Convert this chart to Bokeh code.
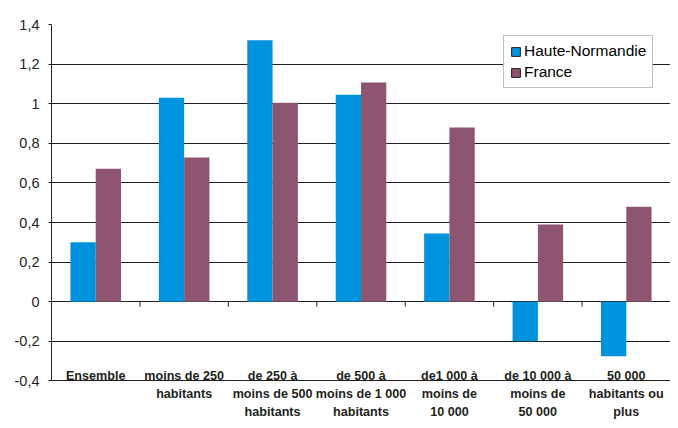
from bokeh.plotting import figure
from bokeh.models import ColumnDataSource, FixedTicker, CustomJSTickFormatter, Legend, LegendItem
from bokeh.core.properties import value
from bokeh.embed import file_html
from bokeh.resources import INLINE

categories = [
    "Ensemble",
    "moins de 250\nhabitants",
    "de 250 à\nmoins de 500\nhabitants",
    "de 500 à\nmoins de 1 000\nhabitants",
    "de1 000 à\nmoins de\n10 000\nhabitants",
    "de 10 000 à\nmoins de\n50 000\nhabitants",
    "50 000\nhabitants ou\nplus",
]
haute_normandie = [0.30, 1.03, 1.32, 1.045, 0.345, -0.20, -0.275]
france = [0.672, 0.728, 1.005, 1.107, 0.88, 0.39, 0.48]
y_ticks = [-0.4, -0.2, 0, 0.2, 0.4, 0.6, 0.8, 1, 1.2, 1.4]
series_names = ["Haute-Normandie", "France"]

BLUE = "#0093DD"
PURPLE = "#8E5571"
DARK = "#231F20"
FONT = "Liberation Sans"

W, H = 670, 420
TOP, LEFT, RIGHT = 24, 51, 0
PX_PER_UNIT = 198.0
frame_h = H - TOP
Y_MAX = 1.4
Y_MIN = Y_MAX - frame_h / PX_PER_UNIT
n = len(categories)
bar_w = 0.286

p = figure(width=W, height=H, x_range=(0, n), y_range=(Y_MIN, Y_MAX),
           output_backend="svg", toolbar_location=None,
           x_axis_location=None, y_axis_location="left",
           min_border_left=LEFT, min_border_right=RIGHT,
           min_border_top=TOP, min_border_bottom=0)
p.outline_line_color = None
p.background_fill_color = "white"
p.border_fill_color = "white"

# grid
p.xgrid.visible = False
p.ygrid.ticker = FixedTicker(ticks=y_ticks)
p.ygrid.grid_line_color = DARK
p.ygrid.grid_line_width = 1

# y axis
ax = p.yaxis[0]
ax.ticker = FixedTicker(ticks=y_ticks)
ax.formatter = CustomJSTickFormatter(code="var s = (Math.round(tick*10)/10).toString(); return s.replace('.', ',');")
ax.bounds = (min(y_ticks), max(y_ticks))
ax.axis_line_color = DARK
ax.axis_line_width = 1
ax.major_tick_line_color = DARK
ax.major_tick_in = 0
ax.major_tick_out = 3
ax.minor_tick_line_color = None
ax.major_label_text_font = FONT
ax.major_label_text_font_size = "14.5px"
ax.major_label_text_color = DARK
ax.major_label_standoff = 9

centers = [i + 0.5 for i in range(n)]
src = ColumnDataSource(dict(
    x_hn=[c - bar_w / 2 for c in centers],
    x_fr=[c + bar_w / 2 for c in centers],
    hn=haute_normandie, fr=france))
p.vbar(x="x_hn", top="hn", bottom=0, width=bar_w, source=src,
       fill_color=BLUE, line_color=None)
p.vbar(x="x_fr", top="fr", bottom=0, width=bar_w, source=src,
       fill_color=PURPLE, line_color=None)

# category tick marks below zero line
tick_len = 5 / PX_PER_UNIT
bx = list(range(1, n + 1))
p.segment(x0=bx, x1=bx, y0=[0] * len(bx), y1=[-tick_len] * len(bx),
          line_color=DARK, line_width=1)

# category labels
first_base_px = 375.5
zero_px = TOP + Y_MAX * PX_PER_UNIT
line_step = 17.8
lx, ly, lt = [], [], []
for c, lab in zip(centers, categories):
    for i, line in enumerate(lab.split("\n")):
        lx.append(c)
        ly.append(-(first_base_px + i * line_step - zero_px) / PX_PER_UNIT)
        lt.append(line)
p.text(x=lx, y=ly, text=lt, text_align="center", text_baseline="alphabetic",
       text_font=value(FONT), text_font_style="bold", text_font_size="12.6px",
       text_color=DARK)

# legend swatches: zero-size proxies (outlined swatches, nothing visible in plot)
r1 = p.vbar(x=centers[:1], top=[0], bottom=[0], width=0,
            fill_color=BLUE, line_color=DARK, line_width=1)
r2 = p.vbar(x=centers[:1], top=[0], bottom=[0], width=0,
            fill_color=PURPLE, line_color=DARK, line_width=1)
legend = Legend(items=[LegendItem(label=series_names[0], renderers=[r1]),
                       LegendItem(label=series_names[1], renderers=[r2])],
                location=(452, 332), orientation="vertical")
legend.label_text_font = FONT
legend.label_text_font_size = "15.5px"
legend.label_text_color = "black"
legend.glyph_width = 11
legend.glyph_height = 11
legend.label_standoff = 3
legend.label_height = 18
legend.padding = 6
legend.spacing = 3
legend.margin = 0
legend.border_line_color = "#7F7F7F"
legend.border_line_width = 1
legend.background_fill_color = "white"
legend.background_fill_alpha = 1
p.add_layout(legend)

open("out.html", "w").write(file_html(p, INLINE))
